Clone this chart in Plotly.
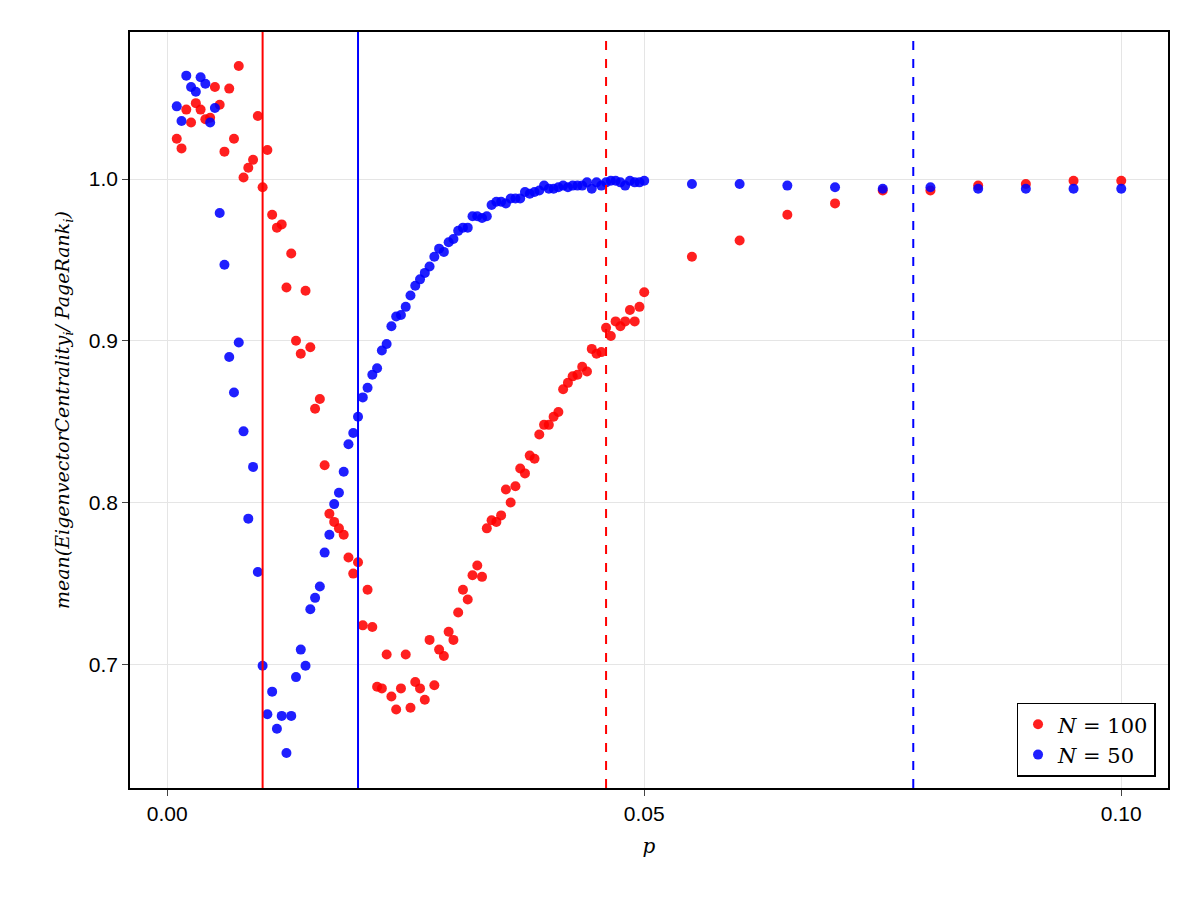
import numpy as np
import plotly.graph_objects as go

# p grid: 0.001..0.05 step 0.0005, then 0.055..0.1 step 0.005
p_dense = [round(0.0005 * k, 4) for k in range(2, 101)]
p_tail = [round(0.055 + 0.005 * k, 3) for k in range(10)]
p_all = p_dense + p_tail

red_dense = [1.025, 1.019, 1.043, 1.035, 1.047, 1.043, 1.037, 1.038, 1.057, 1.046,
             1.017, 1.056, 1.025, 1.070, 1.001, 1.007, 1.012, 1.039, 0.995, 1.018,
             0.978, 0.970, 0.972, 0.933, 0.954, 0.900, 0.892, 0.931, 0.896, 0.858,
             0.864, 0.823, 0.793, 0.788, 0.784, 0.780, 0.766, 0.756, 0.763, 0.724,
             0.746, 0.723, 0.686, 0.685, 0.706, 0.680, 0.672, 0.685, 0.706, 0.673,
             0.689, 0.685, 0.678, 0.715, 0.687, 0.709, 0.705, 0.720, 0.715, 0.732,
             0.746, 0.740, 0.755, 0.761, 0.754, 0.784, 0.789, 0.788, 0.792, 0.808,
             0.800, 0.810, 0.821, 0.818, 0.829, 0.827, 0.842, 0.848, 0.848, 0.853,
             0.856, 0.870, 0.874, 0.878, 0.879, 0.884, 0.881, 0.895, 0.892, 0.893,
             0.908, 0.903, 0.912, 0.909, 0.912, 0.919, 0.912, 0.921, 0.930]
red_tail = [0.952, 0.962, 0.978, 0.985, 0.993, 0.993, 0.996, 0.997, 0.999, 0.999]

blue_dense = [1.045, 1.036, 1.064, 1.057, 1.054, 1.063, 1.059, 1.035, 1.044, 0.979,
              0.947, 0.890, 0.868, 0.899, 0.844, 0.790, 0.822, 0.757, 0.699, 0.669,
              0.683, 0.660, 0.668, 0.645, 0.668, 0.692, 0.709, 0.699, 0.734, 0.741,
              0.748, 0.769, 0.780, 0.799, 0.806, 0.819, 0.836, 0.843, 0.853, 0.865,
              0.871, 0.879, 0.883, 0.894, 0.898, 0.909, 0.915, 0.916, 0.921, 0.928,
              0.934, 0.938, 0.942, 0.946, 0.952, 0.957, 0.955, 0.961, 0.963, 0.968,
              0.970, 0.970, 0.977, 0.977, 0.976, 0.977, 0.984, 0.986, 0.986, 0.985,
              0.988, 0.988, 0.988, 0.992, 0.991, 0.992, 0.993, 0.996, 0.994, 0.994,
              0.995, 0.996, 0.995, 0.996, 0.996, 0.996, 0.998, 0.994, 0.998, 0.996,
              0.998, 0.999, 0.999, 0.998, 0.996, 0.999, 0.998, 0.998, 0.999]
blue_tail = [0.997, 0.997, 0.996, 0.995, 0.994, 0.995, 0.994, 0.994, 0.994, 0.994]

# threshold lines
red_solid, blue_solid = 0.01, 0.02
red_dash, blue_dash = 0.046, 0.0782

fig = go.Figure()
fig.add_trace(go.Scatter(x=p_all, y=red_dense + red_tail, mode="markers",
                         name="<i>N</i> = 100",
                         marker=dict(color="red", size=10, opacity=0.88)))
fig.add_trace(go.Scatter(x=p_all, y=blue_dense + blue_tail, mode="markers",
                         name="<i>N</i> = 50",
                         marker=dict(color="blue", size=10, opacity=0.88)))

for xv, col, dash in [(red_solid, "red", "solid"), (blue_solid, "blue", "solid"),
                      (red_dash, "red", "dash"), (blue_dash, "blue", "dash")]:
    fig.add_vline(x=xv, line=dict(color=col, width=2, dash=dash))

fig.update_layout(
    width=1184, height=884,
    plot_bgcolor="white", paper_bgcolor="white",
    font=dict(family="Liberation Sans, Arial", size=21, color="black"),
    margin=dict(l=122, r=24, t=24, b=104),
    legend=dict(x=0.988, y=0.015, xanchor="right", yanchor="bottom",
                bordercolor="black", borderwidth=1.5, bgcolor="white",
                font=dict(family="DejaVu Serif", size=21)),
)
fig.update_xaxes(range=[-0.0039, 0.1049], tickvals=[0, 0.05, 0.1],
                 ticktext=["0.00", "0.05", "0.10"],
                 showgrid=True, gridcolor="#e5e5e5", zeroline=False,
                 showline=True, linecolor="black", linewidth=1.5, mirror=True,
                 ticks="outside", ticklen=6,
                 title=dict(text="<i>p</i>", font=dict(family="DejaVu Serif", size=20)))
fig.update_yaxes(range=[0.6234, 1.091], tickvals=[0.7, 0.8, 0.9, 1.0],
                 ticktext=["0.7", "0.8", "0.9", "1.0"],
                 showgrid=True, gridcolor="#e5e5e5", zeroline=False,
                 showline=True, linecolor="black", linewidth=1.5, mirror=True,
                 ticks="outside", ticklen=6,
                 title=dict(text="<i>mean(EigenvectorCentrality<sub>i</sub>/ PageRank<sub>i</sub>)</i>",
                            font=dict(family="DejaVu Serif", size=19), standoff=14))

fig.write_html("out.html")
